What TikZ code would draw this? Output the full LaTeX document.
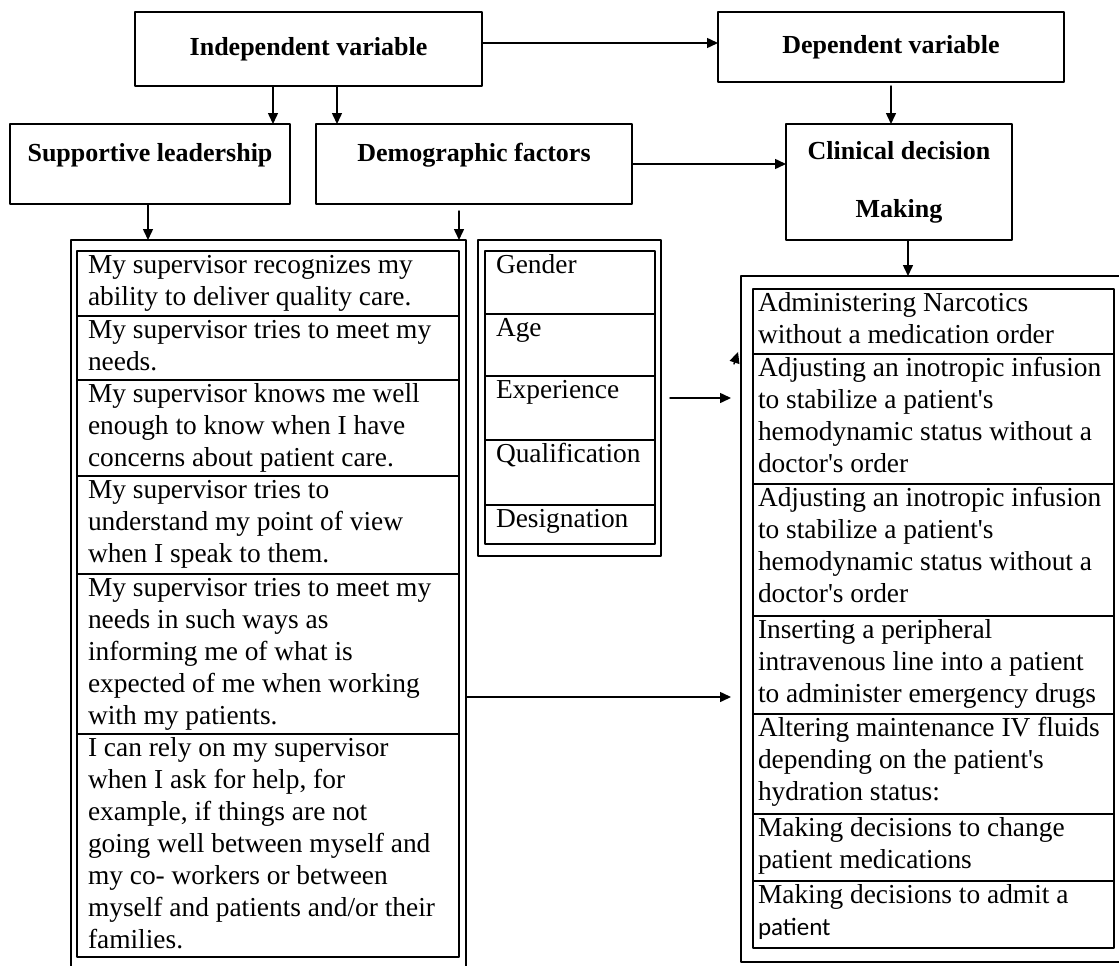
\documentclass[tikz,border=0pt]{standalone}
\usepackage{fontspec}
\setmainfont{Liberation Serif}
\newfontfamily\calibri{Carlito}
\usetikzlibrary{arrows.meta}
\newcommand{\celltext}[3]{\parbox[c][#1][t]{#2}{\raggedright\strut #3}}

\begin{document}
\begin{tikzpicture}[x=1pt,y=-1pt,line cap=round,line join=round,
  font=\fontsize{27.4}{32}\selectfont,
  headbox/.style={draw,line width=1.8pt,outer sep=0pt,inner sep=0pt,align=center,
    font=\fontsize{26}{30}\selectfont\bfseries},
  frame/.style={draw,line width=1.8pt,anchor=north west,outer sep=0pt,inner sep=0pt},
  cell/.style={draw,line width=1.6pt,anchor=north west,outer sep=0pt,inner ysep=0pt,inner xsep=#1},
  arr/.style={line width=1.5pt,-{Triangle[length=11pt,width=10pt]}}]
  \useasboundingbox (0,0) rectangle (1119,966);

  % variable boxes
  \node[headbox,minimum width=347pt,minimum height=74pt] (indep) at (308.5,49) {Independent variable};
  \node[headbox,minimum width=346pt,minimum height=70pt] (dep) at (891,47) {Dependent variable};
  \node[headbox,minimum width=280pt,minimum height=80pt,text depth=24pt] (lead) at (150,164) {Supportive leadership};
  \node[headbox,minimum width=316pt,minimum height=80pt,text depth=24pt] (demo) at (474,164) {Demographic factors};
  \node[headbox,minimum width=226pt,minimum height=116pt] (clin) at (899,182) {Clinical decision\\[28pt]Making};

  % outer frames
  \node[frame,minimum width=395pt,minimum height=914pt] (outerL) at (71,240) {};
  \node[frame,minimum width=183pt,minimum height=316pt] (outerD) at (478,240) {};
  \node[frame,minimum width=384pt,minimum height=686pt] (outerR) at (741,276) {};

  % supportive leadership items
  \node[cell=11pt] (s1) at (77,251) {\celltext{65pt}{360pt}{My supervisor recognizes my\\ ability to deliver quality care.}};
  \node[cell=11pt] (s2) at (s1.south west) {\celltext{64pt}{360pt}{My supervisor tries to meet my\\ needs.}};
  \node[cell=11pt] (s3) at (s2.south west) {\celltext{96pt}{360pt}{My supervisor knows me well\\ enough to know when I have\\ concerns about patient care.}};
  \node[cell=11pt] (s4) at (s3.south west) {\celltext{98pt}{360pt}{My supervisor tries to\\ understand my point of view\\ when I speak to them.}};
  \node[cell=11pt] (s5) at (s4.south west) {\celltext{160pt}{360pt}{My supervisor tries to meet my\\ needs in such ways as\\ informing me of what is\\ expected of me when working\\ with my patients.}};
  \node[cell=11pt] (s6) at (s5.south west) {\celltext{223pt}{360pt}{I can rely on my supervisor\\ when I ask for help, for\\ example, if things are not\\ going well between myself and\\ my co- workers or between\\ myself and patients and/or their\\ families.}};

  % demographic items
  \node[cell=11pt] (d1) at (485,251) {\celltext{63pt}{148pt}{Gender}};
  \node[cell=11pt] (d2) at (d1.south west) {\celltext{62pt}{148pt}{Age}};
  \node[cell=11pt] (d3) at (d2.south west) {\celltext{64pt}{148pt}{Experience}};
  \node[cell=11pt] (d4) at (d3.south west) {\celltext{65pt}{148pt}{Qualification}};
  \node[cell=11pt] (d5) at (d4.south west) {\celltext{39pt}{148pt}{Designation}};

  % clinical decision items
  \node[cell=5pt] (c1) at (753,289) {\celltext{65pt}{351pt}{Administering Narcotics\\ without a medication order}};
  \node[cell=5pt] (c2) at (c1.south west) {\celltext{130pt}{351pt}{Adjusting an inotropic infusion\\ to stabilize a patient\textquotesingle s\\ hemodynamic status without a\\ doctor\textquotesingle s order}};
  \node[cell=5pt] (c3) at (c2.south west) {\celltext{132pt}{351pt}{Adjusting an inotropic infusion\\ to stabilize a patient\textquotesingle s\\ hemodynamic status without a\\ doctor\textquotesingle s order}};
  \node[cell=5pt] (c4) at (c3.south west) {\celltext{98pt}{351pt}{Inserting a peripheral\\ intravenous line into a patient\\ to administer emergency drugs}};
  \node[cell=5pt] (c5) at (c4.south west) {\celltext{100pt}{351pt}{Altering maintenance IV fluids\\ depending on the patient\textquotesingle s\\ hydration status:}};
  \node[cell=5pt] (c6) at (c5.south west) {\celltext{67pt}{351pt}{Making decisions to change\\ patient medications}};
  \node[cell=5pt] (c7) at (c6.south west) {\celltext{67pt}{351pt}{Making decisions to admit a\\ {\calibri\fontsize{25}{32}\selectfont patient}}};

  % arrows
  \draw[arr] ([yshift=6pt]indep.east) -- ([yshift=6pt]indep.east -| dep.west);
  \draw[arr] ([xshift=-35.5pt]indep.south) -- ([xshift=-35.5pt]indep.south |- lead.north);
  \draw[arr] ([xshift=28.5pt]indep.south) -- ([xshift=28.5pt]indep.south |- demo.north);
  \draw[arr] ([xshift=-2pt]lead.south) -- ([xshift=-2pt]lead.south |- outerL.north);
  \draw[arr,shorten <=7pt] ([xshift=-15pt]demo.south) -- ([xshift=-15pt]demo.south |- outerD.north);
  \draw[arr] (demo.east) -- (demo.east -| clin.west);
  \draw[arr,shorten <=4pt] (dep.south) -- (dep.south |- clin.north);
  \draw[arr] ([xshift=9pt]clin.south) -- ([xshift=9pt]clin.south |- outerR.north);
  \draw[arr,shorten >=10pt] (outerL.east) -- (outerL.east -| outerR.west);
  \coordinate (exp) at ([yshift=10pt]d3.east);
  \draw[arr,shorten <=9pt,shorten >=10pt] (exp -| outerD.east) -- (exp -| outerR.west);
  \coordinate (stray) at (734,364);
  \draw[arr] (stray) -- ++(4,-12);
\end{tikzpicture}
\end{document}
